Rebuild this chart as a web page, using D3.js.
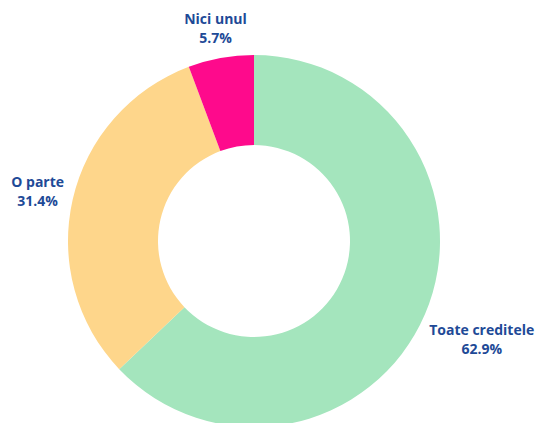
<!DOCTYPE html>
<html>
<head>
<meta charset="utf-8">
<script src="https://cdn.jsdelivr.net/npm/d3@7"></script>
<style>
  body { margin: 0; background: #fff; }
  text { font-family: "Open Sans", "Lato", sans-serif; font-weight: 700; }
</style>
</head>
<body>
<div id="chart"></div>
<script>
// Data
const categories = ["Toate creditele", "O parte", "Nici unul"];
const values = [62.9, 31.4, 5.7];
const colors = ["#a4e5bd", "#fed68b", "#fe0a8c"];

const width = 536;
const height = 423;
const cx = 254, cy = 241;
const outerR = 186, innerR = 96;

const svg = d3.select("#chart").append("svg")
    .attr("width", width)
    .attr("height", height);

const g = svg.append("g").attr("transform", `translate(${cx},${cy})`);

const pie = d3.pie().sort(null).value(d => d.value);
const arcs = pie(categories.map((c, i) => ({ name: c, value: values[i] })));

const arc = d3.arc().innerRadius(innerR).outerRadius(outerR);

g.selectAll("path.slice")
    .data(arcs)
    .enter().append("path")
    .attr("class", "slice")
    .attr("d", arc)
    .attr("fill", (d, i) => colors[i]);

// Labels: push each label box outward until it clears the ring
const labelGap = 6;
const labels = g.selectAll("g.label")
    .data(arcs)
    .enter().append("g")
    .attr("class", "label");

labels.each(function (d) {
    const lg = d3.select(this);
    const t = lg.append("text")
        .attr("text-anchor", "middle")
        .style("fill", "#1e4a97")
        .style("font-size", "14px");
    t.append("tspan").attr("x", 0).attr("y", -4).text(d.data.name);
    t.append("tspan").attr("x", 0).attr("y", 15).text(d.data.value.toFixed(1) + "%");

    const bb = t.node().getBBox();
    const mid = (d.startAngle + d.endAngle) / 2;
    const ux = Math.sin(mid), uy = -Math.cos(mid);
    const w = bb.width / 2, h = bb.height / 2;
    const dist = outerR + labelGap + Math.abs(ux) * w + Math.abs(uy) * h;
    const ox = bb.x + w, oy = bb.y + h;
    lg.attr("transform", `translate(${ux * dist - ox},${uy * dist - oy})`);
});
</script>
</body>
</html>
